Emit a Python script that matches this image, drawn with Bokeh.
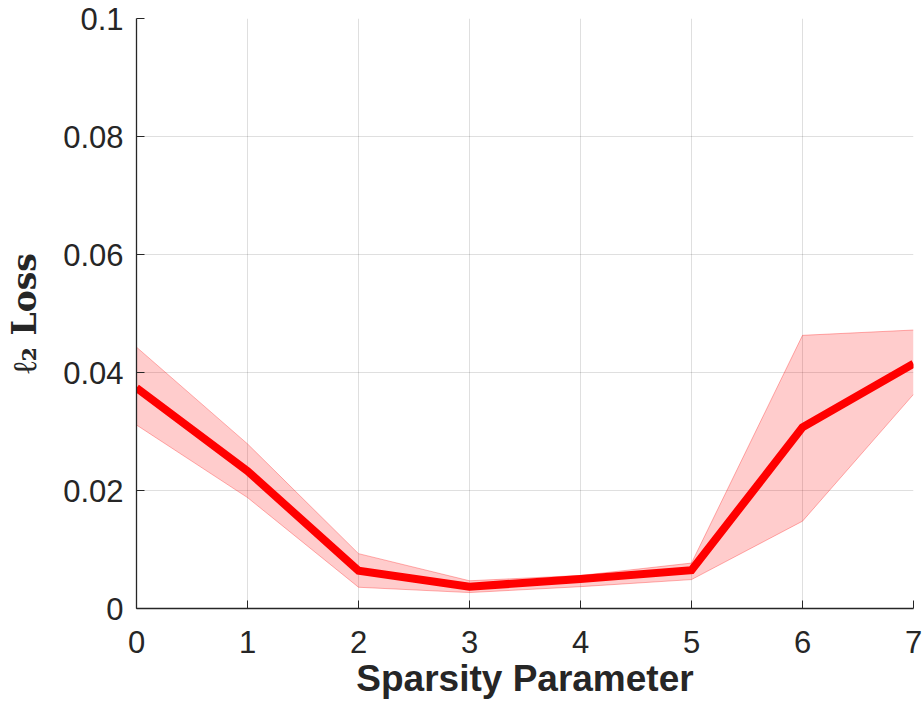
from bokeh.plotting import figure
from bokeh.models import ColumnDataSource, FixedTicker, Range1d
from bokeh.embed import file_html
from bokeh.resources import INLINE

# Data
sparsity = [0, 1, 2, 3, 4, 5, 6, 7]
loss_mean = [0.0374, 0.0233, 0.0064, 0.0037, 0.0050, 0.0065, 0.0307, 0.0415]
loss_upper = [0.0443, 0.0279, 0.0093, 0.0047, 0.0056, 0.0077, 0.0463, 0.0472]
loss_lower = [0.0311, 0.0188, 0.0036, 0.0027, 0.0037, 0.0049, 0.0148, 0.0363]

y_ticks = [0, 0.02, 0.04, 0.06, 0.08, 0.1]
y_tick_labels = ["0", "0.02", "0.04", "0.06", "0.08", "0.1"]
x_ticks = [0, 1, 2, 3, 4, 5, 6, 7]

src = ColumnDataSource(dict(x=sparsity, y=loss_mean, lo=loss_lower, hi=loss_upper))

p = figure(width=923, height=713, output_backend="svg", toolbar_location=None,
           x_range=Range1d(0, 7), y_range=Range1d(0, 0.1),
           min_border_left=136, min_border_right=10, min_border_top=18, min_border_bottom=105)
p.outline_line_color = None
p.background_fill_color = "white"
p.border_fill_color = "white"

p.varea(x="x", y1="lo", y2="hi", source=src, fill_color="#ff0000", fill_alpha=0.2)
p.line(x="x", y="hi", source=src, line_color="#ff0000", line_alpha=0.3, line_width=1)
p.line(x="x", y="lo", source=src, line_color="#ff0000", line_alpha=0.3, line_width=1)
p.line(x="x", y="y", source=src, line_color="#ff0000", line_width=8, line_join="miter")

# Grid
for g in (p.xgrid, p.ygrid):
    g.grid_line_color = "#262626"
    g.grid_line_alpha = 0.15
    g.grid_line_width = 1

p.xaxis.ticker = FixedTicker(ticks=x_ticks)
p.yaxis.ticker = FixedTicker(ticks=y_ticks)
p.yaxis.major_label_overrides = {t: l for t, l in zip(y_ticks, y_tick_labels)}
p.xaxis.major_label_overrides = {t: str(t) for t in x_ticks}

for ax in (p.xaxis, p.yaxis):
    ax.axis_line_color = "#262626"
    ax.axis_line_width = 1.3
    ax.major_tick_line_color = "#262626"
    ax.major_tick_in = 8
    ax.major_tick_out = 0
    ax.minor_tick_line_color = None
    ax.major_label_text_font = "Liberation Sans"
    ax.major_label_text_font_size = "31px"
    ax.major_label_text_color = "#262626"

p.xaxis.major_label_standoff = 22
p.yaxis.major_label_standoff = 13

p.xaxis.axis_label = "Sparsity Parameter"
p.xaxis.axis_label_text_font = "Liberation Sans"
p.xaxis.axis_label_text_font_style = "bold"
p.xaxis.axis_label_text_font_size = "37px"
p.xaxis.axis_label_text_color = "#262626"
p.xaxis.axis_label_standoff = 2

p.yaxis.axis_label = "ℓ₂ Loss"
p.yaxis.axis_label_text_font = "DejaVu Serif"
p.yaxis.axis_label_text_font_style = "bold"
p.yaxis.axis_label_text_font_size = "33px"
p.yaxis.axis_label_text_color = "#262626"
p.yaxis.axis_label_standoff = 16

open("out.html", "w").write(file_html(p, INLINE))
